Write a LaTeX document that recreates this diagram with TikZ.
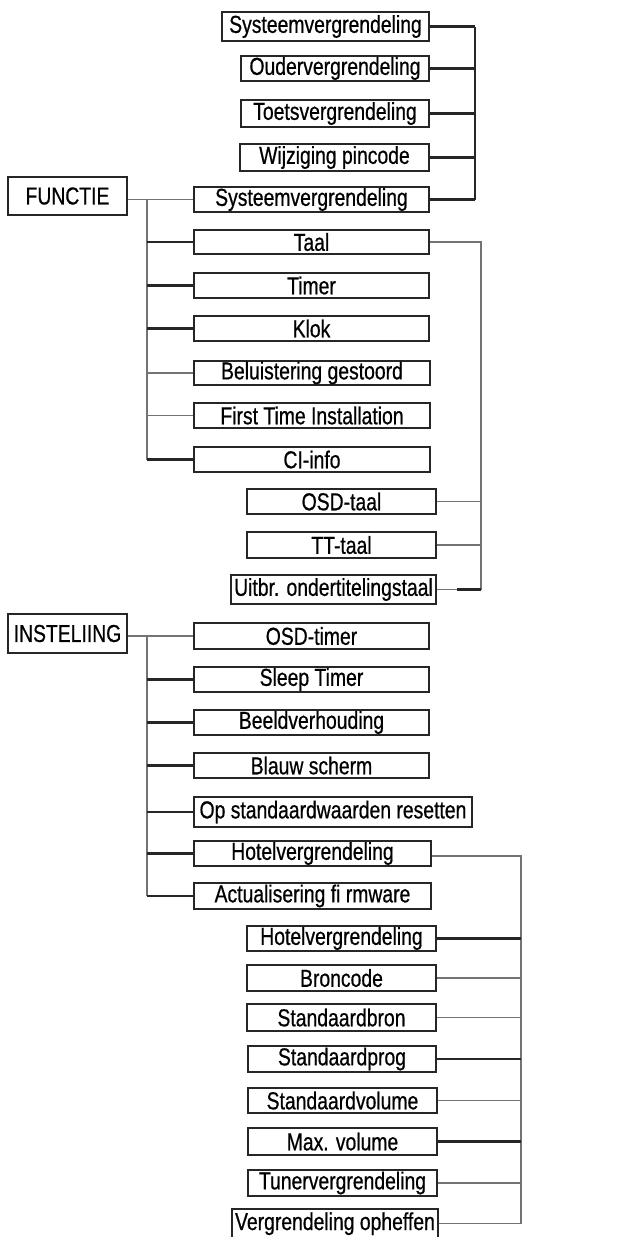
\documentclass[tikz,border=0pt]{standalone}
\usepackage{fontspec}
\setmainfont{Liberation Sans}[FakeStretch=0.79,FakeBold=0.6]
\begin{document}
\begin{tikzpicture}[x=1pt,y=-1pt,
  mbox/.style={draw=black!85,line width=2.3pt,inner sep=0pt,anchor=center,
    font=\fontsize{24.5}{26}\selectfont},
  darkline/.style={draw=black!85,line width=2.3pt},
  grayline/.style={draw=black!55,line width=1.5pt}]
\useasboundingbox (0,0) rectangle (617,1237);
\newcommand{\bx}[6]{\node[mbox,minimum width={#4-#2},minimum height={#5-#3}] (#1) at ({(#2+#4)/2},{(#3+#5)/2}) {#6};}
% FUNCTIE group
\bx{s1}{222}{12}{429}{41}{Systeemvergrendeling}
\bx{s2}{241}{56}{429}{81}{Oudervergrendeling}
\bx{s3}{241}{100}{429}{127}{Toetsvergrendeling}
\bx{s4}{240}{144}{429}{171}{Wijziging pincode}
\bx{functie}{8}{177}{127}{215}{FUNCTIE}
\bx{s5}{194}{187}{429}{212}{Systeemvergrendeling}
\bx{taal}{194}{230}{429}{254}{Taal}
\bx{timer}{194}{273}{429}{298}{Timer}
\bx{klok}{194}{316}{429}{341}{Klok}
\bx{bel}{194}{361}{430}{385}{Beluistering gestoord}
\bx{fti}{194}{403}{430}{428}{First Time Installation}
\bx{ci}{194}{447}{430}{472}{CI-info}
\bx{osdt}{247}{489}{436}{514}{OSD-taal}
\bx{ttt}{247}{532}{436}{558}{TT-taal}
\bx{uit}{231}{575}{436}{604}{Uitbr. ondertitelingstaal}
% INSTELIING group
\bx{inst}{8}{614}{127}{653}{INSTELIING}
\bx{osdtimer}{194}{623}{429}{649}{OSD-timer}
\bx{sleep}{194}{667}{429}{692}{Sleep Timer}
\bx{beeld}{194}{710}{429}{735}{Beeldverhouding}
\bx{blauw}{194}{753}{429}{778}{Blauw scherm}
\bx{op}{194}{797}{472}{827}{Op standaardwaarden resetten}
\bx{hotel}{194}{841}{431}{866}{Hotelvergrendeling}
\bx{act}{194}{883}{431}{909}{Actualisering fi rmware}
\bx{h2}{247}{926}{436}{951}{Hotelvergrendeling}
\bx{bron}{247}{965}{436}{991}{Broncode}
\bx{sbron}{247}{1004}{436}{1031}{Standaardbron}
\bx{sprog}{248}{1046}{436}{1072}{Standaardprog}
\bx{svol}{248}{1088}{437}{1113}{Standaardvolume}
\bx{max}{248}{1128}{437}{1155}{Max. volume}
\bx{tuner}{248}{1170}{437}{1196}{Tunervergrendeling}
\node[mbox,minimum width=206,minimum height=50,text depth=0pt,text height=0pt] (verg) at (335,1234) {};
\node[font=\fontsize{24.5}{26}\selectfont,inner sep=0pt,anchor=base] (vergt) at (335,1230) {Vergrendeling opheffen};
% bus coordinates
\coordinate (fb) at (147,199.5);
\coordinate (rb) at (475,26.5);
\coordinate (tb) at (481,242);
\coordinate (ue) at (457,589.5);
\coordinate (ib) at (147,636);
\coordinate (hb) at (521,856);
% FUNCTIE connectors
\draw[grayline] (functie.east |- s5.west) -- (s5.west);
\draw[grayline] (fb) -- (fb |- ci.west);
\draw[darkline] (fb |- taal.west) -- (taal.west);
\draw[darkline] (fb |- timer.west) -- (timer.west);
\draw[darkline] (fb |- klok.west) -- (klok.west);
\draw[grayline] (fb |- bel.west) -- (bel.west);
\draw[grayline] (fb |- fti.west) -- (fti.west);
\draw[darkline] (fb |- ci.west) -- (ci.west);
% Systeemvergrendeling sub-bus
\draw[darkline] (rb |- s1.east) -- (rb |- s5.east);
\draw[darkline] (s1.east) -- (rb |- s1.east);
\draw[darkline] (s2.east) -- (rb |- s2.east);
\draw[darkline] (s3.east) -- (rb |- s3.east);
\draw[darkline] (s4.east) -- (rb |- s4.east);
\draw[darkline] (s5.east) -- (rb |- s5.east);
% Taal sub-bus
\draw[grayline] (taal.east) -- (tb) -- (tb |- uit.east) -- (uit.east);
\draw[grayline] (osdt.east) -- (tb |- osdt.east);
\draw[grayline] (ttt.east) -- (tb |- ttt.east);
\draw[darkline] (ue) -- (tb |- ue);
% INSTELIING connectors
\draw[grayline] (inst.east |- osdtimer.west) -- (osdtimer.west);
\draw[grayline] (ib) -- (ib |- act.west);
\draw[darkline] (ib |- sleep.west) -- (sleep.west);
\draw[darkline] (ib |- beeld.west) -- (beeld.west);
\draw[darkline] (ib |- blauw.west) -- (blauw.west);
\draw[darkline] (ib |- op.west) -- (op.west);
\draw[darkline] (ib |- hotel.west) -- (hotel.west);
\draw[darkline] (ib |- act.west) -- (act.west);
% Hotelvergrendeling sub-bus
\draw[grayline] (hotel.east |- hb) -- (hb) -- (hb |- vergt.east) -- (vergt.east -| verg.east);
\draw[darkline] (h2.east) -- (hb |- h2.east);
\draw[grayline] (bron.east) -- (hb |- bron.east);
\draw[grayline] (sbron.east) -- (hb |- sbron.east);
\draw[darkline] (sprog.east) -- (hb |- sprog.east);
\draw[grayline] (svol.east) -- (hb |- svol.east);
\draw[darkline] (max.east) -- (hb |- max.east);
\draw[grayline] (tuner.east) -- (hb |- tuner.east);
\end{tikzpicture}
\end{document}
